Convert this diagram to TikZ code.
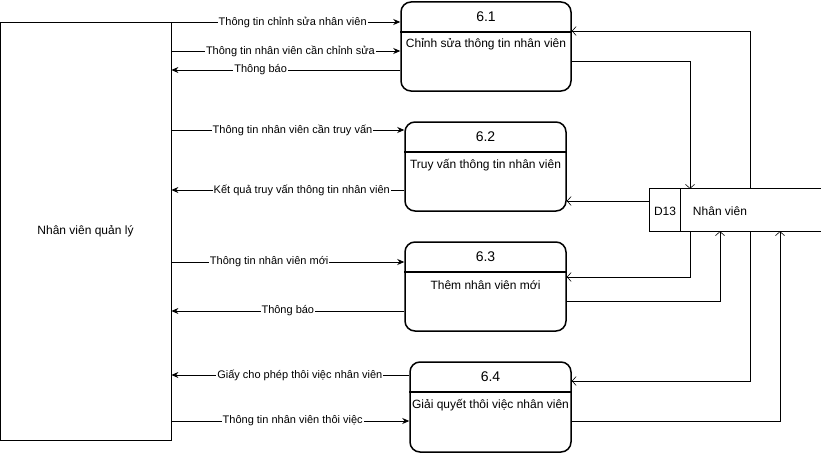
\documentclass[tikz,border=0pt]{standalone}
\usepackage{fontspec}
\setmainfont{Liberation Sans}
\usetikzlibrary{arrows.meta, positioning}

\begin{document}
\begin{tikzpicture}[x=1pt, y=-1pt,
  proc/.style={draw=black, line width=1.5pt, rounded corners=10pt,
    minimum width=161pt, minimum height=89pt, inner sep=0pt},
  flow/.style={-{Stealth[length=7pt, width=6pt]}, line width=0.8pt},
  sflow/.style={-{Straight Barb[length=4pt, width=9pt]}, line width=0.6pt},
  lbl/.style={fill=white, inner sep=1pt, font=\fontsize{11}{13}\selectfont},
  ptitle/.style={inner sep=0pt, font=\fontsize{14}{16}\selectfont},
  ptext/.style={inner sep=0pt, font=\fontsize{12}{14}\selectfont}]
  \useasboundingbox (0,0) rectangle (821,460);

  % external entity
  \node[draw=black, line width=0.8pt, minimum width=171pt, minimum height=418pt,
    inner sep=0pt, font=\fontsize{12}{14}\selectfont] (ent) at (85.5,231) {Nhân viên quản lý};

  % processes
  \node[proc, minimum width=170pt] (p1) at (486,46.5) {};
  \node[proc] (p2) at (485.5,166.5) {};
  \node[proc] (p3) at (485.5,286.5) {};
  \node[proc, minimum height=90pt] (p4) at (490.5,407) {};

  \draw[line width=1.5pt] (p1.west |- 0,32) -- (p1.east |- 0,32);
  \draw[line width=1.5pt] (p2.west |- 0,152) -- (p2.east |- 0,152);
  \draw[line width=1.5pt] (p3.west |- 0,272) -- (p3.east |- 0,272);
  \draw[line width=1.5pt] (p4.west |- 0,392) -- (p4.east |- 0,392);

  \node[ptitle] (t1) at (486,17) {6.1};
  \node[ptitle] (t2) at (485.5,137) {6.2};
  \node[ptitle] (t3) at (485.5,257) {6.3};
  \node[ptitle] (t4) at (490.5,377) {6.4};

  \node[ptext] (n1) at (486,44) {Chỉnh sửa thông tin nhân viên};
  \node[ptext] (n2) at (485.5,165) {Truy vấn thông tin nhân viên};
  \node[ptext] (n3) at (485.5,285) {Thêm nhân viên mới};
  \node[ptext] (n4) at (490.5,405) {Giải quyết thôi việc nhân viên};

  % data store
  \node[minimum width=171pt, minimum height=42pt, inner sep=0pt] (store) at (735.5,210) {};
  \draw[line width=0.8pt] (store.north east) -- (store.north west)
    -- (store.south west) -- (store.south east);
  \draw[line width=0.8pt] (store.north -| 680,0) -- (store.south -| 680,0);
  \node[ptext] (sid) at (665,211) {D13};
  \node[ptext] (sname) at (720,211) {Nhân viên};

  % flows with the entity
  \draw[flow] (ent.east |- 0,22) -- node[lbl, pos=.53] {Thông tin chỉnh sửa nhân viên} (p1.west |- 0,22);
  \draw[flow] (ent.east |- 0,51) -- node[lbl, pos=.52] {Thông tin nhân viên cần chỉnh sửa} (p1.west |- 0,51);
  \draw[flow] (p1.west |- 0,70) -- node[lbl, pos=.61] {Thông báo} (ent.east |- 0,70);
  \draw[flow] (ent.east |- 0,130) -- node[lbl, pos=.52] {Thông tin nhân viên cần truy vấn} (p2.west |- 0,130);
  \draw[flow] (p2.west |- 0,190) -- node[lbl, pos=.44] {Kết quả truy vấn thông tin nhân viên} (ent.east |- 0,190);
  \draw[flow] (ent.east |- 0,262) -- node[lbl, pos=.42] {Thông tin nhân viên mới} (p3.west |- 0,262);
  \draw[flow] (p3.west |- 0,311) -- node[lbl, pos=.5] {Thông báo} (ent.east |- 0,311);
  \draw[flow] (p4.west |- 0,375) -- node[lbl, pos=.46] {Giấy cho phép thôi việc nhân viên} (ent.east |- 0,375);
  \draw[flow] (ent.east |- 0,421) -- node[lbl, pos=.51] {Thông tin nhân viên thôi việc} (p4.west |- 0,421);

  % flows with the store
  \draw[sflow] (store.north -| 750,0) |- (p1.east |- 0,31);
  \draw[sflow] (p1.east |- 0,61) -| (store.north -| 690,0);
  \draw[sflow] (store.west |- 0,201) -- (p2.east |- 0,201);
  \draw[sflow] (store.south -| 690,0) |- (p3.east |- 0,277);
  \draw[sflow] (p3.east |- 0,301) -| (store.south -| 720,0);
  \draw[sflow] (store.south -| 750,0) |- (p4.east |- 0,381);
  \draw[sflow] (p4.east |- 0,421) -| (store.south -| 780,0);
\end{tikzpicture}
\end{document}
